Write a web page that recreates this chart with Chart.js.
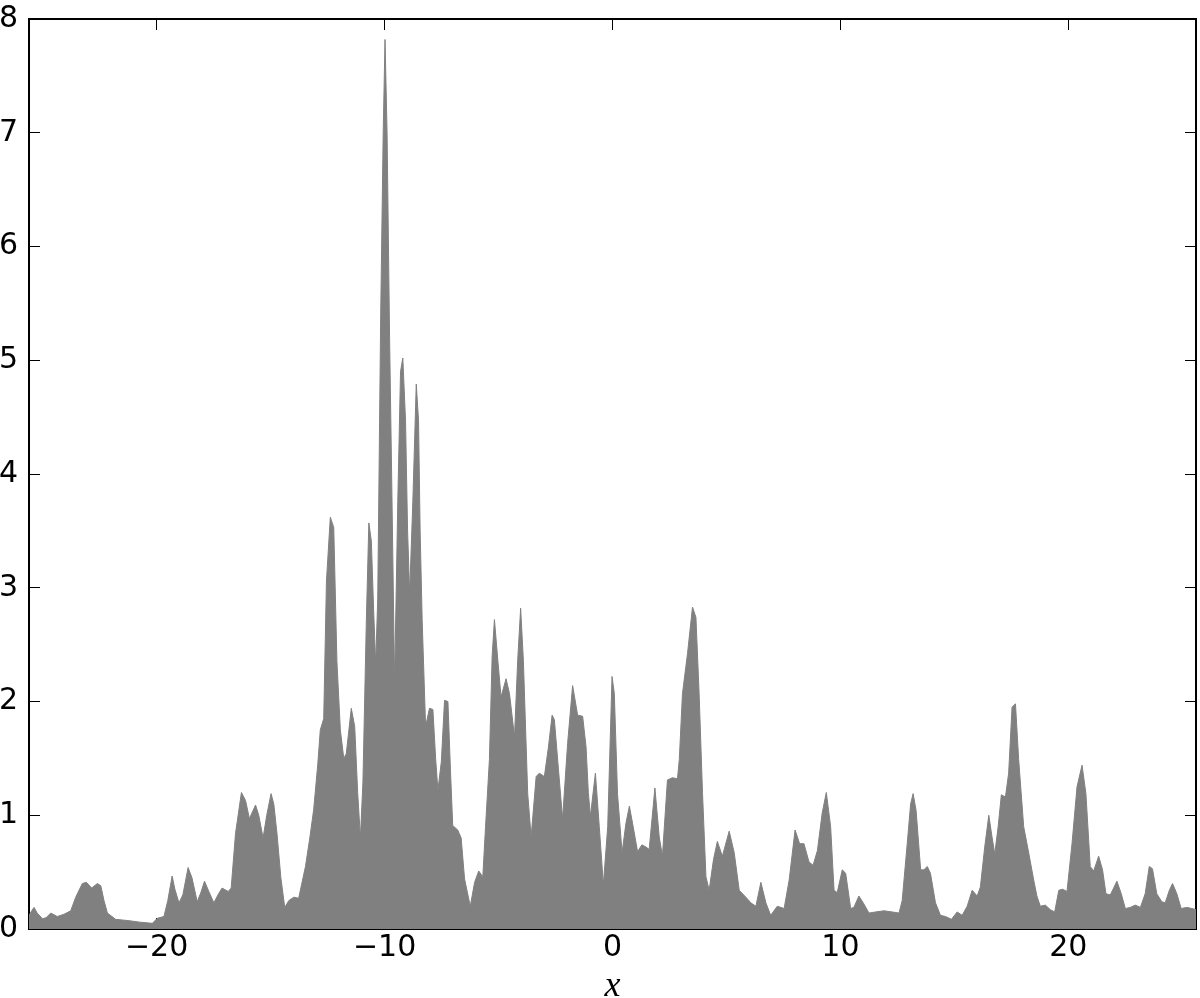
<!DOCTYPE html>
<html>
<head>
<meta charset="utf-8">
<script src="https://cdn.jsdelivr.net/npm/chart.js@4.4.1/dist/chart.umd.min.js"></script>
<style>
  html, body { margin: 0; padding: 0; background: #ffffff; }
  #wrap { width: 1200px; height: 998px; }
</style>
</head>
<body>
<div id="wrap"><canvas id="c" width="1200" height="998"></canvas></div>
<script>
// ---- data ----
const xs = [
  -25.6,-25.51,-25.38,-25.24,-25.01,-24.85,-24.64,-24.36,-24.06,-23.77,
  -23.55,-23.26,-23.08,-22.85,-22.60,-22.45,-22.31,-22.16,-21.80,-21.21,
  -20.73,-20.19,-19.97,-19.68,-19.51,-19.32,-19.20,-19.02,-18.85,-18.62,
  -18.45,-18.22,-18.06,-17.90,-17.71,-17.49,-17.31,-17.13,-16.86,-16.73,
  -16.54,-16.28,-16.10,-15.93,-15.66,-15.52,-15.33,-15.17,-14.98,-14.86,
  -14.72,-14.55,-14.38,-14.20,-13.98,-13.77,-13.47,-13.28,-13.11,-12.93,
  -12.82,-12.67,-12.55,-12.38,-12.23,-12.09,-11.94,-11.79,-11.68,-11.46,
  -11.31,-11.18,-11.06,-10.95,-10.80,-10.69,-10.58,-10.48,-10.39,-10.30,
  -10.17,-10.06,-9.98,-9.89,-9.78,-9.69,-9.56,-9.42,-9.30,-9.20,
  -9.08,-8.99,-8.90,-8.76,-8.61,-8.51,-8.44,-8.35,-8.20,-8.03,
  -7.88,-7.76,-7.66,-7.51,-7.37,-7.22,-7.11,-7.01,-6.79,-6.64,
  -6.49,-6.24,-6.05,-5.87,-5.69,-5.57,-5.40,-5.28,-5.18,-5.03,
  -4.89,-4.67,-4.52,-4.30,-4.16,-4.03,-3.91,-3.72,-3.57,-3.35,
  -3.21,-2.99,-2.81,-2.65,-2.55,-2.37,-2.19,-1.97,-1.75,-1.53,
  -1.31,-1.16,-1.06,-0.97,-0.75,-0.58,-0.40,-0.21,-0.02,0.08,
  0.22,0.42,0.59,0.74,0.88,1.10,1.29,1.47,1.61,1.86,
  2.05,2.19,2.41,2.63,2.85,2.93,3.07,3.29,3.51,3.66,
  3.80,3.95,4.10,4.24,4.43,4.60,4.82,5.12,5.34,5.56,
  5.85,6.07,6.29,6.51,6.73,6.94,7.23,7.53,7.75,8.01,
  8.21,8.40,8.62,8.80,8.99,9.20,9.38,9.57,9.72,9.86,
  10.08,10.23,10.45,10.59,10.81,11.03,11.25,11.54,11.91,12.27,
  12.57,12.71,12.93,13.08,13.19,13.32,13.52,13.66,13.81,13.95,
  14.17,14.39,14.61,14.87,15.12,15.34,15.56,15.78,16.00,16.14,
  16.33,16.51,16.65,16.77,16.92,17.06,17.24,17.38,17.53,17.68,
  17.82,18.04,18.26,18.48,18.62,18.77,18.99,19.21,19.40,19.58,
  19.75,19.94,20.16,20.38,20.60,20.77,20.96,21.11,21.33,21.50,
  21.65,21.84,22.13,22.32,22.50,22.72,22.94,23.16,23.37,23.55,
  23.69,23.88,24.10,24.25,24.43,24.57,24.76,24.95,25.20,25.42,
  25.6
];
const ys = [
  0.12,0.15,0.19,0.14,0.09,0.10,0.14,0.11,0.13,0.16,
  0.28,0.40,0.41,0.36,0.40,0.38,0.25,0.14,0.085,0.073,
  0.06,0.05,0.094,0.11,0.25,0.466,0.35,0.23,0.30,0.54,
  0.45,0.24,0.32,0.42,0.33,0.23,0.30,0.36,0.33,0.36,
  0.84,1.20,1.13,0.97,1.09,1.0,0.80,1.0,1.19,1.1,
  0.84,0.45,0.19,0.25,0.28,0.27,0.55,0.80,1.05,1.45,
  1.75,1.85,3.06,3.62,3.53,2.35,1.75,1.50,1.54,1.94,
  1.78,1.2,0.80,1.29,2.71,3.57,3.41,2.8,2.33,2.9,
  5.4,7.0,7.82,7.0,5.2,4.0,2.17,3.76,4.9,5.02,
  4.47,3.5,2.95,3.76,4.79,4.47,3.5,2.71,1.78,1.94,
  1.93,1.5,1.22,1.47,2.01,2.0,1.4,0.91,0.87,0.80,
  0.44,0.20,0.41,0.51,0.46,0.9,1.49,2.4,2.72,2.36,
  2.04,2.20,2.07,1.69,2.36,2.82,2.36,1.19,0.81,1.34,
  1.37,1.34,1.6,1.88,1.84,1.4,0.97,1.63,2.14,1.88,
  1.87,1.60,1.2,0.99,1.37,0.90,0.39,0.90,2.22,2.07,
  1.19,0.67,0.93,1.08,0.93,0.68,0.74,0.72,0.70,1.24,
  0.81,0.64,1.31,1.33,1.32,1.49,2.07,2.42,2.83,2.74,
  2.07,1.19,0.46,0.34,0.61,0.77,0.64,0.86,0.67,0.34,
  0.28,0.23,0.20,0.41,0.23,0.12,0.20,0.18,0.43,0.87,
  0.75,0.75,0.59,0.56,0.69,1.02,1.20,0.90,0.34,0.32,
  0.52,0.49,0.18,0.19,0.29,0.22,0.14,0.15,0.16,0.15,
  0.14,0.25,0.75,1.10,1.19,1.04,0.52,0.52,0.55,0.49,
  0.23,0.12,0.11,0.085,0.15,0.12,0.20,0.34,0.29,0.37,
  0.72,1.00,0.81,0.66,0.90,1.18,1.16,1.37,1.95,1.98,
  1.49,0.90,0.67,0.43,0.29,0.20,0.21,0.17,0.15,0.34,
  0.35,0.33,0.75,1.25,1.44,1.19,0.55,0.51,0.64,0.52,
  0.31,0.30,0.42,0.31,0.18,0.19,0.21,0.19,0.31,0.55,
  0.53,0.31,0.24,0.23,0.34,0.40,0.31,0.18,0.19,0.18,
  0.17
];
const xTicks = [-20, -10, 0, 10, 20];
const xTickLabels = ['\u221220', '\u221210', '0', '10', '20'];
const yTicks = [0, 1, 2, 3, 4, 5, 6, 7, 8];
const yTickLabels = ['0', '1', '2', '3', '4', '5', '6', '7', '8'];
const xMin = -25.6, xMax = 25.6;
const yMin = 0, yMax = 8;
const xTitle = 'x';

// ---- chart ----
const FONT = 'DejaVu Sans';
const gridOpts = { drawOnChartArea: false, drawTicks: true, tickLength: -11, color: '#000000', lineWidth: 1 };
const borderOpts = { display: true, color: '#000000', width: 2 };

const points = xs.map((x, i) => ({ x: x, y: ys[i] }));

function fixSize(prop, val) {
  return s => {
    s[prop] = val;
    s.paddingTop = 0; s.paddingBottom = 0; s.paddingLeft = 0; s.paddingRight = 0;
  };
}

new Chart(document.getElementById('c').getContext('2d'), {
  type: 'line',
  data: {
    datasets: [{
      data: points,
      fill: 'origin',
      backgroundColor: '#808080',
      borderColor: '#808080',
      borderWidth: 1,
      pointRadius: 0,
      tension: 0
    }]
  },
  options: {
    responsive: false,
    animation: false,
    events: [],
    layout: { padding: 0 },
    plugins: { legend: { display: false }, tooltip: { enabled: false } },
    scales: {
      x: {
        type: 'linear', position: 'bottom', min: xMin, max: xMax, z: 1,
        afterBuildTicks: s => { s.ticks = xTicks.map(v => ({ value: v })); },
        afterFit: fixSize('height', 69),
        grid: gridOpts, border: borderOpts,
        ticks: {
          padding: 12, color: '#000000', autoSkip: false, maxRotation: 0,
          font: { family: FONT, size: 30 },
          callback: (v, i) => xTickLabels[i]
        },
        title: {
          display: true, text: xTitle, color: '#000000',
          font: { family: 'Liberation Serif', style: 'italic', size: 36, lineHeight: 1 },
          padding: { top: 0, bottom: -7 }
        }
      },
      x2: {
        type: 'linear', position: 'top', min: xMin, max: xMax, z: 1,
        afterBuildTicks: s => { s.ticks = xTicks.map(v => ({ value: v })); },
        afterFit: fixSize('height', 19),
        grid: gridOpts, border: borderOpts,
        ticks: { display: false }
      },
      y: {
        type: 'linear', position: 'left', min: yMin, max: yMax, z: 1,
        afterBuildTicks: s => { s.ticks = yTicks.map(v => ({ value: v })); },
        afterFit: fixSize('width', 29),
        grid: gridOpts, border: borderOpts,
        ticks: {
          padding: 22, color: '#000000', autoSkip: false,
          font: { family: FONT, size: 30 },
          callback: (v, i) => yTickLabels[i]
        }
      },
      y2: {
        type: 'linear', position: 'right', min: yMin, max: yMax, z: 1,
        afterBuildTicks: s => { s.ticks = yTicks.map(v => ({ value: v })); },
        afterFit: fixSize('width', 4),
        grid: gridOpts, border: borderOpts,
        ticks: { display: false }
      }
    }
  }
});
</script>
</body>
</html>
